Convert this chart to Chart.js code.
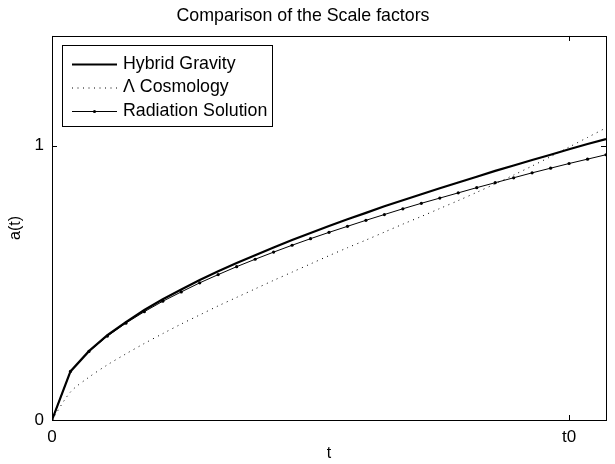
<!DOCTYPE html>
<html>
<head>
<meta charset="utf-8">
<script src="https://cdn.jsdelivr.net/npm/chart.js@4"></script>
<style>
  html, body { margin: 0; padding: 0; background: #fff; }
  #chart { display: block; }
</style>
</head>
<body>
<canvas id="chart" width="615" height="464"></canvas>
<script>
// time steps (t0 sits at step 28)
var tSteps = [0, 1, 2, 3, 4, 5, 6, 7, 8, 9, 10, 11, 12, 13, 14, 15, 16, 17, 18, 19, 20, 21, 22, 23, 24, 25, 26, 27, 28, 29, 30];

var hybridGravity = [0, 0.177, 0.251, 0.309, 0.357, 0.401, 0.440, 0.476, 0.510, 0.542, 0.572, 0.601, 0.629, 0.656, 0.682, 0.707,
  0.732, 0.755, 0.779, 0.801, 0.823, 0.845, 0.866, 0.887, 0.908, 0.928, 0.948, 0.967, 0.987, 1.006, 1.024];

var lambdaCosmology = [0, 0.102, 0.156, 0.201, 0.241, 0.279, 0.315, 0.350, 0.383, 0.416, 0.447, 0.478, 0.509, 0.539, 0.569, 0.599,
  0.628, 0.656, 0.685, 0.714, 0.742, 0.771, 0.800, 0.830, 0.861, 0.893, 0.926, 0.960, 0.995, 1.030, 1.065];

var radiationSolution = [0, 0.177, 0.250, 0.306, 0.353, 0.395, 0.433, 0.467, 0.500, 0.530, 0.559, 0.586, 0.612, 0.637, 0.661, 0.684,
  0.706, 0.728, 0.749, 0.770, 0.790, 0.809, 0.828, 0.847, 0.865, 0.883, 0.901, 0.918, 0.935, 0.951, 0.967];

var seriesNames = ['Hybrid Gravity', '\u039B Cosmology', 'Radiation Solution'];
var xTickValues = [0, 28];
var xTickLabels = ['0', 't0'];
var yTickValues = [0, 1];
var yTickLabels = ['0', '1'];

var FONT = "'Liberation Sans', Arial, sans-serif";

function pairs(ys) {
  return tSteps.map(function(t, i) { return {x: t, y: ys[i]}; });
}

// box, inward ticks and the legend, matlab style
var matlabAxes = {
  id: 'matlabAxes',
  afterDraw: function(chart) {
    var ctx = chart.ctx, a = chart.chartArea;
    var xs = chart.scales.x, ys = chart.scales.y;
    ctx.save();
    ctx.strokeStyle = '#000';
    ctx.lineWidth = 1;
    ctx.strokeRect(Math.round(a.left) + 0.5, Math.round(a.top) + 0.5,
      Math.round(a.right - a.left), Math.round(a.bottom - a.top));
    ctx.beginPath();
    xTickValues.forEach(function(v) {
      var px = Math.round(xs.getPixelForValue(v)) + 0.5;
      ctx.moveTo(px, a.bottom); ctx.lineTo(px, a.bottom - 5);
      ctx.moveTo(px, a.top); ctx.lineTo(px, a.top + 5);
    });
    yTickValues.forEach(function(v) {
      var py = Math.round(ys.getPixelForValue(v)) + 0.5;
      ctx.moveTo(a.left, py); ctx.lineTo(a.left + 5, py);
      ctx.moveTo(a.right, py); ctx.lineTo(a.right - 5, py);
    });
    ctx.stroke();

    // legend box
    var lx = 62.5, ly = 45.5, lw = 210, lh = 81;
    ctx.fillStyle = '#fff';
    ctx.fillRect(lx, ly, lw, lh);
    ctx.strokeRect(lx, ly, lw, lh);
    var rows = [64, 87.5, 111];
    ctx.font = '17.8px ' + FONT;
    ctx.textBaseline = 'middle';
    ctx.fillStyle = '#000';
    chart.data.datasets.forEach(function(ds, i) {
      var y = rows[i] + 0.5;
      ctx.save();
      ctx.lineWidth = ds.borderWidth;
      ctx.setLineDash(ds.borderDash || []);
      ctx.beginPath();
      ctx.moveTo(72, y); ctx.lineTo(117, y);
      ctx.stroke();
      ctx.restore();
      if (ds.pointRadius > 0) {
        ctx.beginPath();
        ctx.arc(94.5, y, ds.pointRadius, 0, Math.PI * 2);
        ctx.fill();
      }
      ctx.fillText(ds.label, 123, rows[i]);
    });
    ctx.restore();
  }
};

new Chart(document.getElementById('chart').getContext('2d'), {
  type: 'line',
  data: {
    datasets: [{
      label: seriesNames[0],
      data: pairs(hybridGravity),
      borderColor: '#000',
      borderWidth: 2.2,
      pointRadius: 0,
      tension: 0
    }, {
      label: seriesNames[1],
      data: pairs(lambdaCosmology),
      borderColor: '#000',
      borderWidth: 1,
      borderDash: [1, 4.5],
      pointRadius: 0,
      tension: 0.3
    }, {
      label: seriesNames[2],
      data: pairs(radiationSolution),
      borderColor: '#000',
      backgroundColor: '#000',
      borderWidth: 1,
      pointRadius: 1.6,
      pointBorderWidth: 0,
      tension: 0
    }]
  },
  options: {
    responsive: false,
    animation: false,
    layout: {padding: {left: 0, right: 9, top: 0, bottom: 0}},
    plugins: {
      legend: {display: false},
      tooltip: {enabled: false},
      title: {
        display: true,
        text: 'Comparison of the Scale factors',
        color: '#000',
        font: {family: FONT, size: 17.8, weight: 'normal'},
        padding: {top: 5, bottom: 9.6}
      }
    },
    scales: {
      x: {
        type: 'linear',
        min: 0, max: 30,
        afterBuildTicks: function(s) { s.ticks = xTickValues.map(function(v) { return {value: v}; }); },
        afterFit: function(s) { s.height = 44; },
        grid: {display: false, drawTicks: false},
        border: {display: false},
        ticks: {
          color: '#000', padding: 7, maxRotation: 0,
          font: {family: FONT, size: 17},
          callback: function(v) { return xTickLabels[xTickValues.indexOf(v)]; }
        },
        title: {display: true, text: 't', color: '#000', font: {family: FONT, size: 16}, padding: {top: 0, bottom: 1}}
      },
      y: {
        type: 'linear',
        min: 0, max: 1.4,
        afterBuildTicks: function(s) { s.ticks = yTickValues.map(function(v) { return {value: v}; }); },
        afterFit: function(s) { s.width = 52; },
        grid: {display: false, drawTicks: false},
        border: {display: false},
        ticks: {
          color: '#000', padding: 8,
          font: {family: FONT, size: 17},
          callback: function(v) { return yTickLabels[yTickValues.indexOf(v)]; }
        },
        title: {display: true, text: 'a(t)', color: '#000', font: {family: FONT, size: 16}, padding: {top: 6, bottom: 0}}
      }
    }
  },
  plugins: [matlabAxes]
});
</script>
</body>
</html>
